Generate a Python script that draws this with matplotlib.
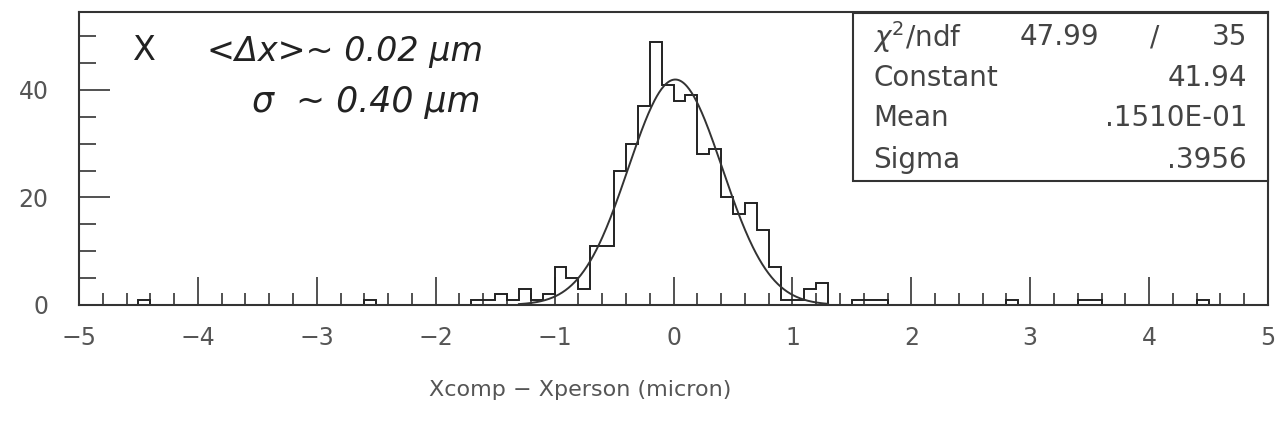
import numpy as np
import matplotlib
matplotlib.use("Agg")
import matplotlib.pyplot as plt
from matplotlib.ticker import MultipleLocator

# ---- data ----
bin_centers = [-4.45, -2.55, -1.65, -1.55, -1.45, -1.35, -1.25, -1.15, -1.05,
               -0.95, -0.85, -0.75, -0.65, -0.55, -0.45, -0.35, -0.25, -0.15,
               -0.05, 0.05, 0.15, 0.25, 0.35, 0.45, 0.55, 0.65, 0.75, 0.85,
               0.95, 1.05, 1.15, 1.25, 1.55, 1.65, 1.75, 2.85, 3.45, 3.55, 4.45]
counts = [1, 1, 1, 1, 2, 1, 3, 1, 2,
          7, 5, 3, 11, 11, 25, 30, 37, 49,
          41, 38, 39, 28, 29, 20, 17, 19, 14, 7,
          1, 1, 3, 4, 1, 1, 1, 1, 1, 1, 1]
x_range = (-5.0, 5.0)
n_bins = 100

fit_constant = 41.94
fit_mean = 0.1510e-01
fit_sigma = 0.3956
fit_range = (-1.3, 1.3)

stats_labels = ["$\\chi^2$/ndf", "Constant", "Mean", "Sigma"]
stats_values = ["35", "41.94", ".1510E-01", ".3956"]
chi2_value = "47.99"

x_ticks = [-5, -4, -3, -2, -1, 0, 1, 2, 3, 4, 5]
y_ticks = [0, 20, 40]
x_label = "Xcomp \u2212 Xperson (micron)"
note_mark = "X"
note_line1 = "<\u0394x>~ 0.02 \u03bcm"
note_line2 = "\u03c3  ~ 0.40 \u03bcm"

# ---- figure ----
plt.rcParams['font.family'] = ['DejaVu Sans']
W, H = 1284, 430
fig = plt.figure(figsize=(W / 100, H / 100), dpi=100)
ax = fig.add_axes([79 / W, 1 - 305 / H, (1268 - 79) / W, (305 - 12) / H])

edges = np.linspace(x_range[0], x_range[1], n_bins + 1)
ax.hist(bin_centers, bins=edges, weights=counts, histtype='step',
        color='#222222', linewidth=1.4)

xf = np.linspace(fit_range[0], fit_range[1], 400)
yf = fit_constant * np.exp(-0.5 * ((xf - fit_mean) / fit_sigma) ** 2)
ax.plot(xf, yf, color='#333333', linewidth=1.4)

ax.set_xlim(*x_range)
ax.set_ylim(0, 54.5)
ax.set_xticks(x_ticks)
ax.set_yticks(y_ticks)
ax.xaxis.set_minor_locator(MultipleLocator(0.2))
ax.yaxis.set_minor_locator(MultipleLocator(5))
ax.tick_params(axis='both', which='major', direction='in', length=20, width=1.2,
               colors='#333333', labelcolor='#555555', labelsize=17)
ax.tick_params(axis='y', which='major', length=22)
ax.tick_params(axis='both', which='minor', direction='in', length=9, width=1.2,
               colors='#333333')
ax.tick_params(axis='y', which='minor', length=12)
ax.tick_params(axis='x', which='both', top=False, pad=15)
ax.tick_params(axis='y', which='both', right=False, pad=22)
for s in ax.spines.values():
    s.set_color('#333333')
    s.set_linewidth(1.5)

fig.text(580 / W, 1 - 390 / H, x_label, fontsize=16, color='#555555',
         ha='center', va='center')

# handwritten notes
fig.text(133 / W, 1 - 50 / H, note_mark, fontsize=24, color='#222222',
         va='center', ha='left')
fig.text(207 / W, 1 - 52 / H, note_line1, fontsize=24, style='italic',
         color='#222222', va='center', ha='left')
fig.text(480 / W, 1 - 102 / H, note_line2, fontsize=25, style='italic',
         color='#222222', va='center', ha='right')

# stats box
bx0, bx1 = 853 / W, 1268 / W
by0, by1 = 1 - 181 / H, 1 - 13 / H
box = plt.Rectangle((bx0, by0), bx1 - bx0, by1 - by0, transform=fig.transFigure,
                    fill=True, facecolor='white', edgecolor='#333333', linewidth=1.5,
                    zorder=5)
fig.add_artist(box)
rows_y = [37, 78, 118, 160]
for lab, val, ry in zip(stats_labels, stats_values, rows_y):
    fig.text(873 / W, 1 - ry / H, lab, fontsize=20, color='#444444',
             va='center', ha='left', zorder=6)
    fig.text(1247 / W, 1 - ry / H, val, fontsize=20, color='#444444',
             va='center', ha='right', zorder=6)
fig.text(1020 / W, 1 - rows_y[0] / H, chi2_value, fontsize=20, color='#444444',
         va='center', ha='left', zorder=6)
fig.text(1155 / W, 1 - rows_y[0] / H, "/", fontsize=20, color='#444444',
         va='center', ha='center', zorder=6)

fig.savefig("out.png", dpi=100, facecolor='white')
